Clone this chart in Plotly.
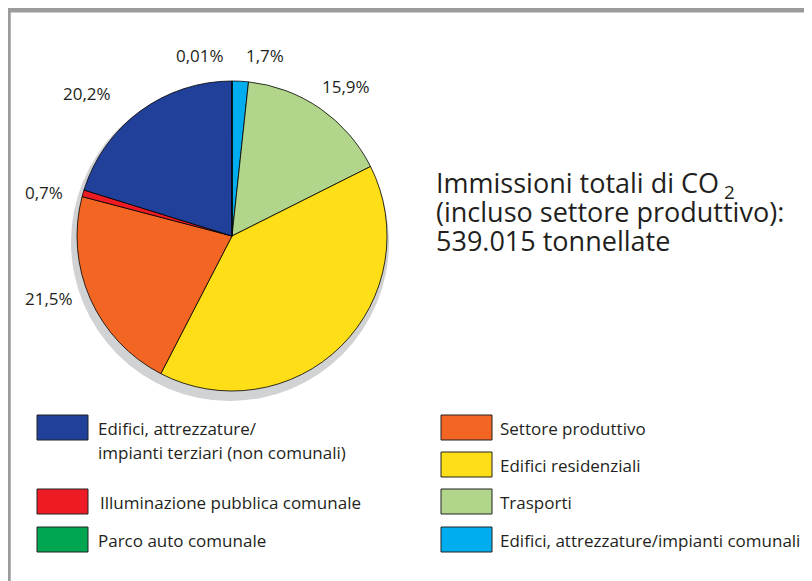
import plotly.graph_objects as go

# ---- data ----
categories = [
    "Edifici, attrezzature/impianti comunali",
    "Trasporti",
    "Edifici residenziali",
    "Settore produttivo",
    "Illuminazione pubblica comunale",
    "Edifici, attrezzature/\nimpianti terziari (non comunali)",
    "Parco auto comunale",
]
values = [1.7, 15.9, 40.0, 21.5, 0.7, 20.2, 0.01]
show_pct = [True, True, False, True, True, True, True]
colors = ["#00aeef", "#b1d58b", "#fede17", "#f26522", "#ed1c24", "#21409a", "#00a651"]

title_lines = ["Immissioni totali di CO<sub> 2</sub>",
               "(incluso settore produttivo):",
               "539.015 tonnellate"]

# page body has an 8px margin: figure is placed at (8, 8) in the window
OFF = 8
W, H = 812 - OFF, 581 - OFF
FONT = "Open Sans"
TXT = "#231f20"


def px(x):
    return (x - OFF) / W


def py(y):
    return 1 - (y - OFF) / H


# pie geometry (window pixels)
cx, cy, r = 232, 236, 155

fig = go.Figure()
fig.add_trace(go.Pie(
    labels=[c.replace("\n", " ") for c in categories],
    values=values,
    marker=dict(colors=colors, line=dict(color="#000000", width=0.8)),
    sort=False,
    direction="clockwise",
    rotation=0,
    textinfo="none",
    hoverinfo="label+percent",
    showlegend=False,
    domain=dict(x=[px(cx - r), px(cx + r)], y=[py(cy + r), py(cy - r)]),
))

shapes = []
annotations = []

# shadow
shapes.append(dict(type="circle", xref="paper", yref="paper", layer="below",
                   x0=px(230 - 159), x1=px(230 + 159), y0=py(242 + 159), y1=py(242 - 159),
                   fillcolor="#d1d2d4", line=dict(width=0)))

# frame (top and left)
shapes.append(dict(type="line", xref="paper", yref="paper", x0=px(6), x1=1.0, y0=py(10.3), y1=py(10.3),
                   line=dict(color="#9b9b9d", width=4.5)))
shapes.append(dict(type="line", xref="paper", yref="paper", x0=px(8.5), x1=px(8.5), y0=py(8), y1=0,
                   line=dict(color="#9b9b9d", width=4.5)))

# percentage labels (pixel anchors, in slice order)
label_pos = [(265, 55), (346, 86), None, (49, 298), (44, 192), (87, 93), (200, 55)]
for v, show, pos in zip(values, show_pct, label_pos):
    if not show or pos is None:
        continue
    txt = ("%g" % v).replace(".", ",") + "%"
    annotations.append(dict(x=px(pos[0]), y=py(pos[1]), xref="paper", yref="paper",
                            text=txt, showarrow=False, xanchor="center", yanchor="middle",
                            font=dict(family=FONT, size=17, color=TXT)))

# title block
title_y = [185, 212, 240]
for t, yy in zip(title_lines, title_y):
    annotations.append(dict(x=px(434), y=py(yy), xref="paper", yref="paper", text=t,
                            showarrow=False, xanchor="left", yanchor="middle",
                            font=dict(family=FONT, size=27, color=TXT)))

# legend: left column [dark blue, red, green], right column [orange, yellow, lgreen, lblue]
legend_layout = [
    (5, 37, 415, 96), (4, 37, 489, 98), (6, 37, 527, 96),
    (3, 441, 415, 498), (2, 441, 452, 498), (1, 441, 489, 498), (0, 441, 527, 498),
]
for idx, bx, by, tx in legend_layout:
    shapes.append(dict(type="rect", xref="paper", yref="paper",
                       x0=px(bx), x1=px(bx + 51), y0=py(by + 25), y1=py(by),
                       fillcolor=colors[idx], line=dict(color="#222222", width=1)))
    for k, line in enumerate(categories[idx].split("\n")):
        annotations.append(dict(x=px(tx), y=py(by + 13 + 24 * k), xref="paper", yref="paper",
                                text=line, showarrow=False, xanchor="left", yanchor="middle",
                                font=dict(family=FONT, size=17, color=TXT)))

fig.update_layout(
    width=W, height=H,
    margin=dict(l=0, r=0, t=0, b=0),
    paper_bgcolor="white", plot_bgcolor="white",
    shapes=shapes, annotations=annotations,
    showlegend=False,
)

fig.write_html("out.html")
